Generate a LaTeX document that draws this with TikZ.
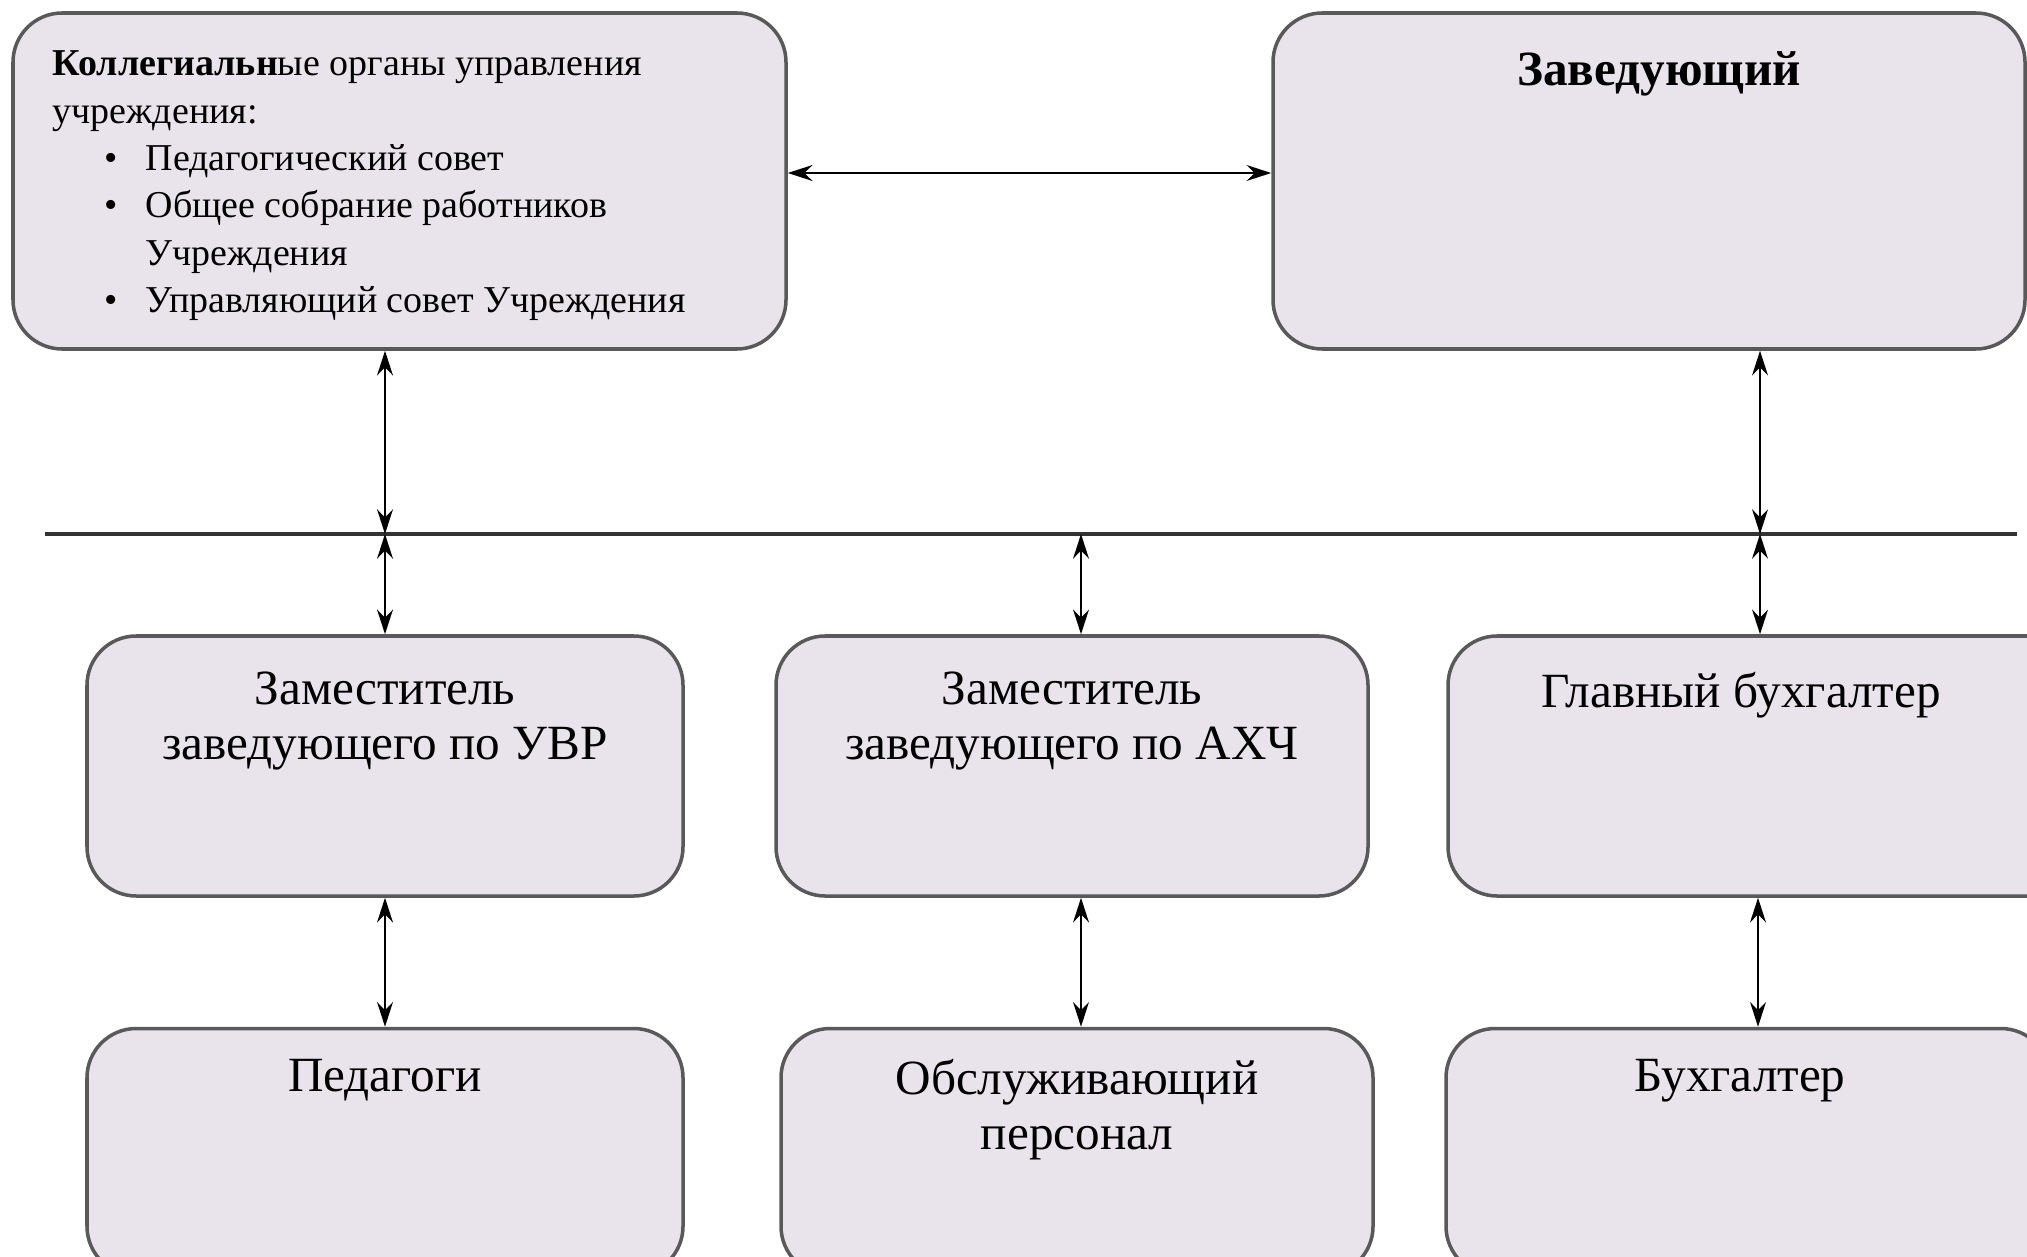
\documentclass[tikz,border=0pt]{standalone}
\usepackage{fontspec}
\setmainfont{Liberation Serif}
\usetikzlibrary{arrows.meta,positioning}
\definecolor{boxfill}{RGB}{233,227,236}
\tikzstyle{org}=[draw=black!65,line width=1pt,rounded corners=14pt,fill=boxfill,inner sep=0pt]
\tikzstyle{lnk}=[{Stealth[length=7pt,width=4.5pt]}-{Stealth[length=7pt,width=4.5pt]},line width=0.7pt]
\tikzstyle{txt}=[font=\fontsize{14}{15.6}\selectfont,align=center,inner sep=0pt]
\newcommand\itm{\makebox[0.93cm][l]{\hspace{0.52cm}\textbullet}}

\begin{document}
\begin{tikzpicture}
\useasboundingbox (0,0) rectangle (20.27,-12.56);
\clip (0,0) rectangle (20.27,-12.56);
\node[org,minimum width=7.73cm,minimum height=3.36cm] (kol) at (3.995,-1.81) {};
\node[org,minimum width=7.52cm,minimum height=3.36cm] (zav) at (16.49,-1.81) {};
\node[org,minimum width=5.96cm,minimum height=2.6cm] (uvr) at (3.85,-7.66) {};
\node[org,minimum width=5.92cm,minimum height=2.6cm] (axch) at (10.72,-7.66) {};
\node[org,minimum width=6.4cm,minimum height=2.6cm] (gb) at (17.68,-7.66) {};
\node[org,minimum width=5.96cm,minimum height=2.47cm] (ped) at (3.85,-11.52) {};
\node[org,minimum width=5.92cm,minimum height=2.47cm] (obs) at (10.77,-11.52) {};
\node[org,minimum width=6.04cm,minimum height=2.47cm] (buh) at (17.48,-11.52) {};

\node[anchor=north west,align=left,inner sep=0pt,font=\fontsize{10.8}{13.5}\selectfont] (kolt) at (0.52,-0.5)
 {\textbf{Коллегиальн}ые органы управления\\
  учреждения:\\
  \itm Педагогический совет\\
  \itm Общее собрание работников\\
  \hspace*{0.93cm}Учреждения\\
  \itm Управляющий совет Учреждения};
\node[txt,font=\fontsize{14}{16}\selectfont\bfseries,below=0.4cm of zav.north,xshift=0.1cm] (zavt) {Заведующий};
\node[txt,below=0.37cm of uvr.north] (uvrt) {Заместитель\\заведующего по УВР};
\node[txt,below=0.37cm of axch.north] (axcht) {Заместитель\\заведующего по АХЧ};
\node[txt,below=0.37cm of gb.north,xshift=-0.27cm] (gbt) {Главный бухгалтер};
\node[txt,below=0.32cm of ped.north] (pedt) {Педагоги};
\node[txt,below=0.32cm of obs.north] (obst) {Обслуживающий\\персонал};
\node[txt,below=0.32cm of buh.north,xshift=-0.08cm] (buht) {Бухгалтер};

\coordinate (h1) at (0.45,-5.34);
\coordinate (h2) at (20.17,-5.34);
\draw[line width=1.3pt,black!80] (h1) -- (h2);

\draw[lnk] ([yshift=0.08cm]kol.east) -- ([yshift=0.08cm]zav.west);
\draw[lnk] (uvr.north |- kol.south) -- (uvr.north |- h1);
\draw[lnk] ([xshift=-0.08cm]gb.north |- zav.south) -- ([xshift=-0.08cm]gb.north |- h1);
\draw[lnk] (uvr.north |- h1) -- (uvr.north);
\draw[lnk] ([xshift=0.09cm]axch.north |- h1) -- ([xshift=0.09cm]axch.north);
\draw[lnk] ([xshift=-0.08cm]gb.north |- h1) -- ([xshift=-0.08cm]gb.north);
\draw[lnk] (uvr.south) -- (ped.north);
\draw[lnk] ([xshift=0.09cm]axch.south) -- ([xshift=0.09cm]axch.south |- obs.north);
\draw[lnk] ([xshift=-0.1cm]gb.south) -- ([xshift=-0.1cm]gb.south |- buh.north);
\end{tikzpicture}
\end{document}
